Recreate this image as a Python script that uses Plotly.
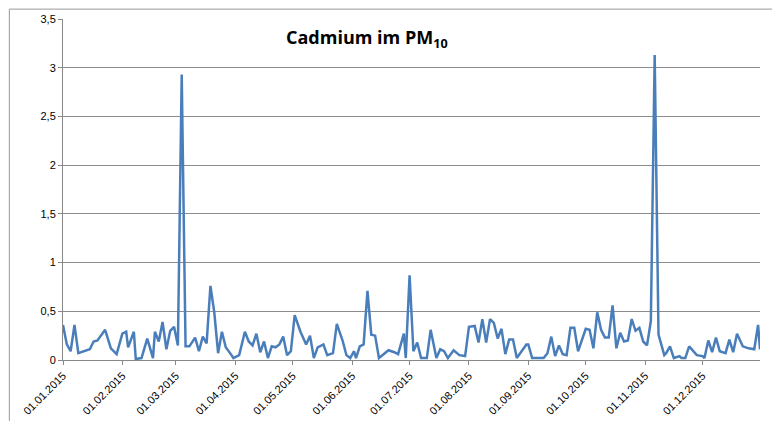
import pandas as pd
import plotly.graph_objects as go

# Sampling day (offset from 01.01.2015) and cadmium concentration in ng/m3
days = [0, 2, 4, 6, 8, 11, 14, 16, 18, 22, 25, 28, 31, 33, 34, 37, 38, 41, 44, 47,
        48, 50, 52, 54, 56, 58, 60, 62, 64, 66, 69, 71, 73, 75, 77, 79, 81, 83, 85, 88,
        89, 92, 95, 97, 99, 101, 103, 105, 107, 109, 111, 113, 115, 117, 119, 121, 124, 127, 129, 131,
        133, 136, 138, 141, 143, 146, 148, 150, 152, 153, 155, 157, 159, 161, 163, 165, 167, 170, 173, 175,
        178, 179, 181, 183, 185, 187, 190, 192, 195, 197, 199, 201, 204, 207, 210, 212, 215, 217, 219, 221,
        223, 225, 227, 229, 231, 233, 235, 237, 242, 243, 245, 251, 253, 255, 257, 259, 261, 263, 265, 267,
        269, 273, 275, 277, 279, 281, 283, 285, 287, 289, 291, 293, 295, 297, 299, 301, 303, 305, 307, 309,
        311, 314, 315, 317, 319, 322, 323, 325, 327, 329, 331, 334, 335, 337, 339, 341, 343, 346, 348, 350,
        352, 355, 358, 361, 363, 364]
cadmium = [0.36, 0.16, 0.09, 0.36, 0.07, 0.09, 0.11, 0.19, 0.20, 0.31, 0.12, 0.06, 0.27, 0.29, 0.13, 0.29, 0.01, 0.02, 0.22, 0.02,
           0.29, 0.19, 0.39, 0.11, 0.30, 0.34, 0.15, 2.93, 0.14, 0.14, 0.23, 0.09, 0.24, 0.17, 0.76, 0.49, 0.07, 0.29, 0.13, 0.05,
           0.02, 0.05, 0.29, 0.19, 0.15, 0.27, 0.08, 0.19, 0.02, 0.14, 0.13, 0.16, 0.24, 0.05, 0.09, 0.46, 0.29, 0.16, 0.25, 0.02,
           0.13, 0.16, 0.05, 0.07, 0.37, 0.20, 0.05, 0.02, 0.09, 0.02, 0.14, 0.16, 0.71, 0.26, 0.25, 0.02, 0.05, 0.10, 0.08, 0.06,
           0.27, 0.02, 0.87, 0.09, 0.18, 0.02, 0.02, 0.31, 0.02, 0.11, 0.09, 0.02, 0.10, 0.05, 0.04, 0.34, 0.35, 0.18, 0.42, 0.18,
           0.42, 0.38, 0.22, 0.32, 0.06, 0.21, 0.21, 0.02, 0.16, 0.16, 0.02, 0.02, 0.07, 0.24, 0.04, 0.15, 0.06, 0.05, 0.33, 0.33,
           0.09, 0.32, 0.31, 0.12, 0.49, 0.31, 0.23, 0.23, 0.56, 0.12, 0.28, 0.19, 0.20, 0.42, 0.30, 0.33, 0.19, 0.15, 0.40, 3.13,
           0.26, 0.05, 0.07, 0.14, 0.02, 0.04, 0.02, 0.02, 0.14, 0.09, 0.05, 0.04, 0.02, 0.20, 0.08, 0.23, 0.09, 0.07, 0.21, 0.08,
           0.27, 0.14, 0.12, 0.11, 0.36, 0.11]

dates = pd.Timestamp("2015-01-01") + pd.to_timedelta(days, unit="D")
month_ticks = [d.strftime("%Y-%m-%d") for d in pd.date_range("2015-01-01", "2015-12-01", freq="MS")]
y_ticks = [0, 0.5, 1, 1.5, 2, 2.5, 3, 3.5]

fig = go.Figure(go.Scatter(x=dates, y=cadmium, mode="lines",
                           line=dict(color="#4a7ebb", width=2.5)))

fig.update_layout(
    width=780, height=421,
    margin=dict(l=55, r=28, t=11, b=69, autoexpand=False),
    paper_bgcolor="white", plot_bgcolor="white",
    separators=",.",
    showlegend=False,
    font=dict(family="Liberation Sans, Arial", size=11, color="black"),
    title=dict(text="<b>Cadmium im PM<sub>10</sub></b>", x=0.46, y=0.93,
               xanchor="center", yanchor="middle", font=dict(size=18, family="Open Sans")),
)
fig.update_xaxes(range=["2015-01-01", "2015-12-31"], tickmode="array", tickvals=month_ticks,
                 tickformat="%d.%m.%Y", tickangle=-45, showgrid=False, automargin=False,
                 showline=True, linecolor="#888", ticks="outside", ticklen=4,
                 tickcolor="#888")
fig.update_yaxes(range=[0, 3.5], tickmode="array", tickvals=y_ticks, showgrid=True,
                 gridcolor="#8c8c8c", gridwidth=1, showline=True, linecolor="#888",
                 ticks="outside", ticklen=4, tickcolor="#888", zeroline=False, automargin=False)

fig.add_annotation(text="<b>[ng/m<sup>3</sup>]</b>", xref="paper", yref="paper",
                   x=-0.068, y=1.04, xanchor="left", yanchor="bottom",
                   showarrow=False, font=dict(size=10))
fig.add_shape(type="rect", xref="paper", yref="paper", x0=-0.077, x1=1.037,
              y0=-0.196, y1=1.029, layer="below", line=dict(color="#999", width=1))

fig.write_html("out.html")
